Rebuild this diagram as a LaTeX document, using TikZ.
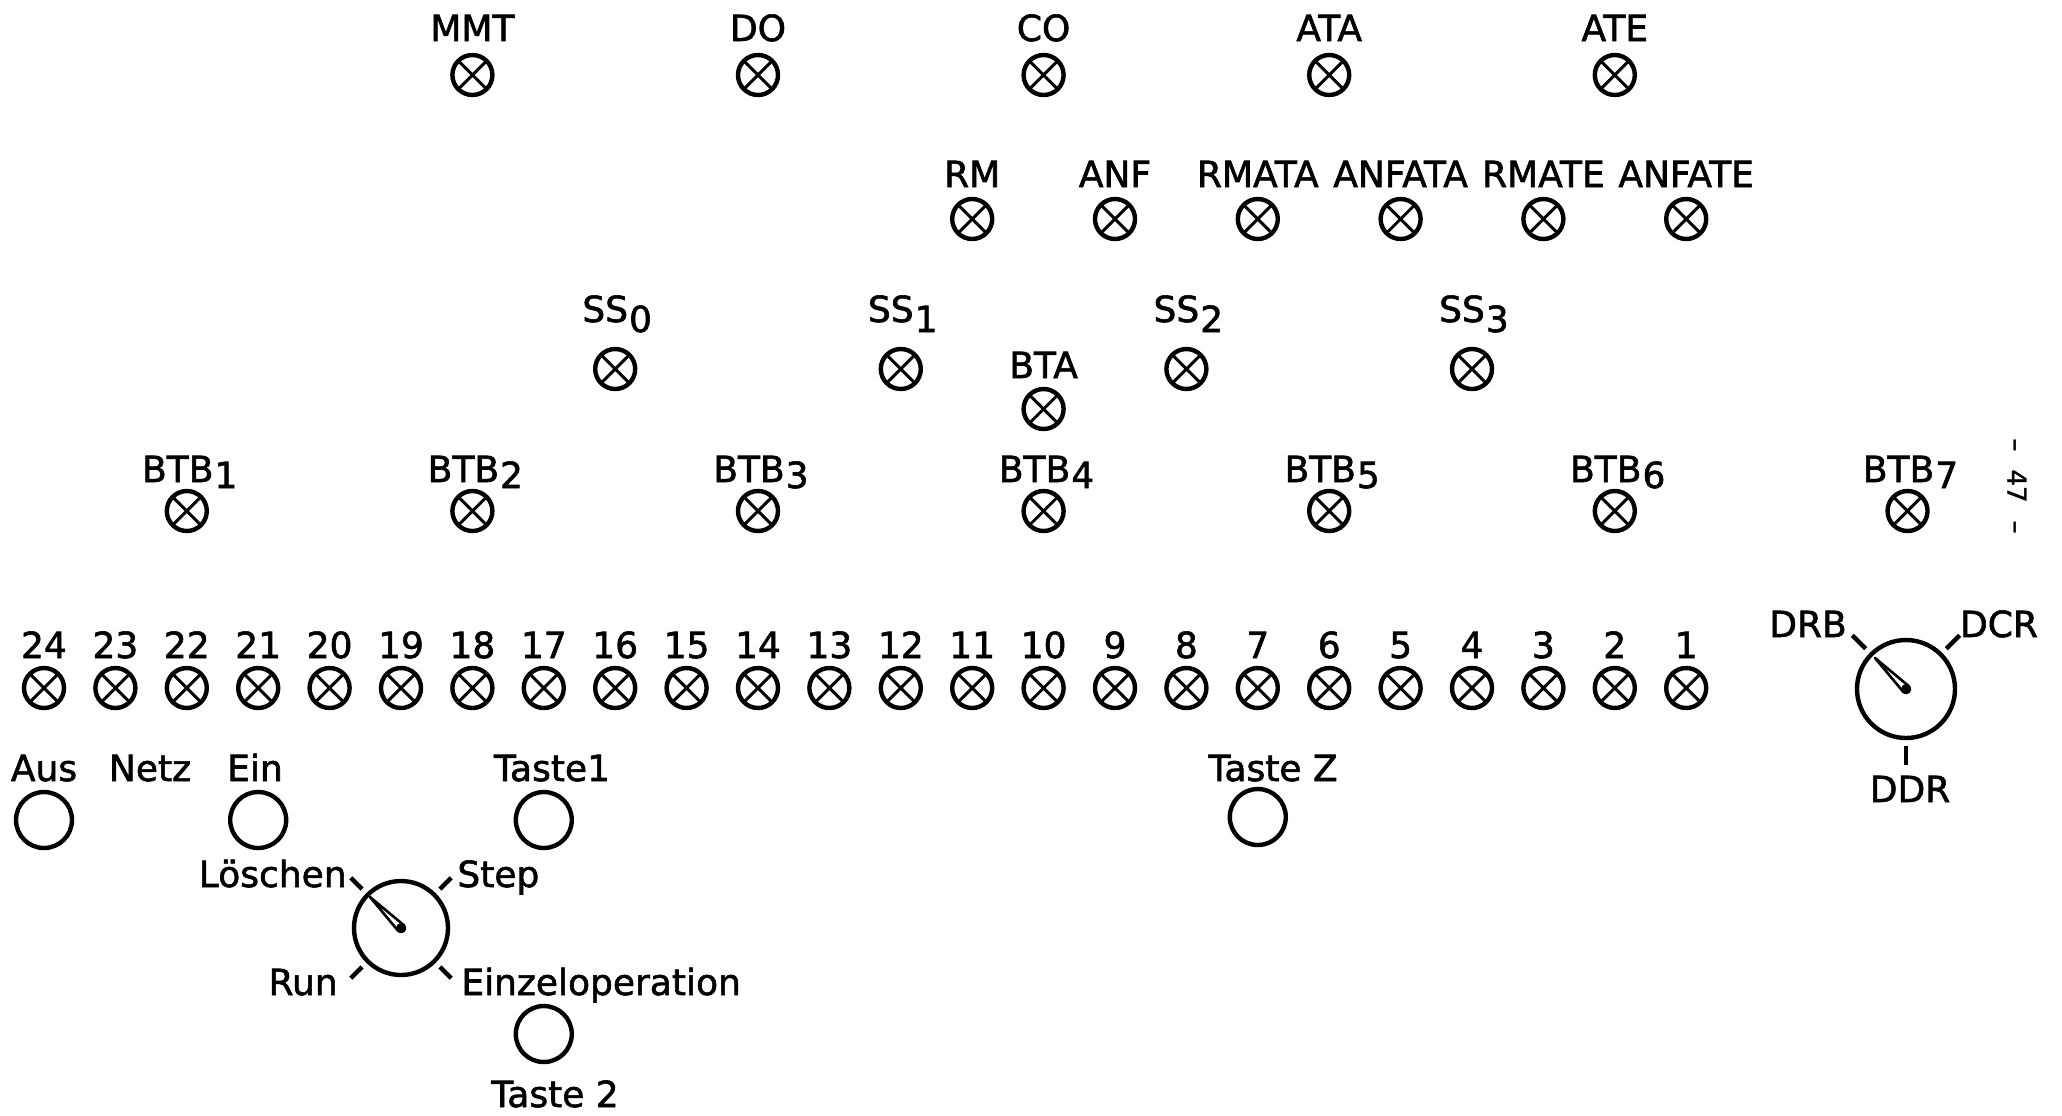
\documentclass[tikz,border=0pt]{standalone}
\usepackage{fontspec}
\setmainfont{DejaVu Sans}[BoldFont={DejaVu Sans},BoldFeatures={FakeBold=1.6}]
\begin{document}
\begin{tikzpicture}[x=0.5pt,y=-0.5pt,
  lamp/.style={circle,draw,line width=2.2pt,minimum size=20pt,inner sep=0pt,
    path picture={\draw[line width=1.5pt] (path picture bounding box.north west)--(path picture bounding box.south east)
      (path picture bounding box.north east)--(path picture bounding box.south west);}},
  button/.style={circle,draw,line width=2.2pt,minimum size=28pt,inner sep=0pt},
  knob/.style={circle,draw,line width=2.2pt,inner sep=0pt},
  lab/.style={font=\fontsize{18}{20}\selectfont\bfseries,inner sep=0pt,anchor=base},
  tickmark/.style={line width=2.2pt},
  needle/.style={line width=1.3pt,line join=round}]
\useasboundingbox (0,0) rectangle (2062,1115);
\def\X#1{{44+71.4*#1}}
% row 1
\foreach \nm/\c/\t in {mmt/6/MMT,do/10/DO,co/14/CO,ata/18/ATA,ate/22/ATE}{
  \node[lamp] (\nm) at (\X{\c},75) {};
  \node[lab] (\nm-l) at (\X{\c},41) {\t};
}
% row 2
\foreach \nm/\c/\t in {rm/13/RM,anf/15/ANF,rmata/17/RMATA,anfata/19/ANFATA,rmate/21/RMATE,anfate/23/ANFATE}{
  \node[lamp] (\nm) at (\X{\c},219) {};
  \node[lab] (\nm-l) at (\X{\c},187) {\t};
}
% row 3
\foreach \i/\c in {0/8,1/12,2/16,3/20}{
  \node[lamp] (ss\i) at (\X{\c},369) {};
  \node[lab] (ss\i-l) at ({44+71.4*\c-10},322) {SS\rlap{\kern0.5pt\raisebox{-5pt}{\i}}};
}
\node[lamp] (bta) at (\X{14},409) {};
\node[lab] (bta-l) at (\X{14},378) {BTA};
% row 4
\foreach \i/\c in {1/2,2/6,3/10,4/14,5/18,6/22,7/26.1}{
  \node[lamp] (btb\i) at (\X{\c},511) {};
  \node[lab] (btb\i-l) at ({44+71.4*\c-9},482) {BTB\rlap{\kern0.5pt\raisebox{-3pt}{\i}}};
}
% numbered row
\foreach \n in {1,...,24}{
  \node[lamp] (n\n) at ({44+71.4*(24-\n)},688) {};
  \node[lab] (n\n-l) at ({44+71.4*(24-\n)},658) {\n};
}
% buttons
\node[button] (aus) at (\X{0},820) {};
\node[lab] (aus-l) at (44,781) {Aus};
\node[lab] (netz-l) at (150,781) {Netz};
\node[button] (ein) at (\X{3},820) {};
\node[lab] (ein-l) at (255,781) {Ein};
\node[button] (taste1) at (\X{7},820) {};
\node[lab] (taste1-l) at (552,781) {Taste1};
\node[button] (tastez) at (\X{17},817) {};
\node[lab] (tastez-l) at (1273,781) {Taste Z};
\node[button] (taste2) at (\X{7},1034) {};
\node[lab] (taste2-l) at (555,1107) {Taste 2};
% left rotary switch
\node[knob,minimum size=47pt] (sw1) at (401,928) {};
\begin{scope}[shift={(sw1.center)},x=0.5pt,y=0.5pt]
  \draw[needle] (135:44) -- (45:4) arc[start angle=45,end angle=-135,radius=4] -- cycle;
  \fill (0,0) circle (5);
  \foreach \a in {45,135,225,315} \draw[tickmark] (\a:55) -- (\a:71);
\end{scope}
\node[lab,anchor=base east] (loeschen) at (347,887) {Löschen};
\node[lab,anchor=base west] (step) at (457,887) {Step};
\node[lab,anchor=base east] (run) at (338,995) {Run};
\node[lab,anchor=base west] (einzel) at (461,995) {Einzeloperation};
% right rotary switch
\node[knob,minimum size=49pt] (sw2) at (1906,689) {};
\begin{scope}[shift={(sw2.center)},x=0.5pt,y=0.5pt]
  \draw[needle] (135:44) -- (45:4) arc[start angle=45,end angle=-135,radius=4] -- cycle;
  \fill (0,0) circle (5);
  \foreach \a in {45,135,270} \draw[tickmark] (\a:57) -- (\a:76);
\end{scope}
\node[lab] (drb) at (1808,637) {DRB};
\node[lab] (dcr) at (1999,637) {DCR};
\node[lab] (ddr) at (1910,802) {DDR};
% page number
\node[font=\fontsize{13}{13}\selectfont\bfseries,rotate=-90,inner sep=0pt] (page) at (2017,486) {–\hspace{9pt}47\hspace{9pt}–};
\end{tikzpicture}
\end{document}
